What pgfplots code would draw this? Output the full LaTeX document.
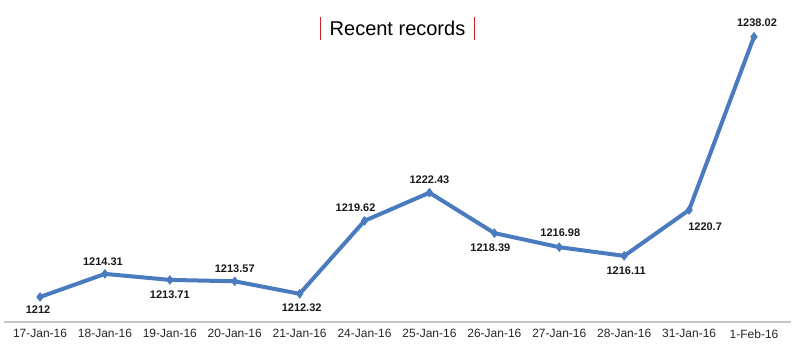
\documentclass[border=0pt]{standalone}
\usepackage{pgfplots}
\pgfplotsset{compat=1.18}
\usepackage{pgfplotstable}
\usepackage{fontspec}
\setmainfont{Liberation Sans}
\definecolor{lineblue}{HTML}{4A7BBE}
\definecolor{barred}{HTML}{D2232A}
\pgfplotstableread{
x y dx dy lab
0 1212.00 -2 -13 1212
1 1214.31 -2 12 1214.31
2 1213.71 0 -15 1213.71
3 1213.57 0 13 1213.57
4 1212.32 2 -14 1212.32
5 1219.62 -9 13 1219.62
6 1222.43 0 13 1222.43
7 1218.39 -4 -15 1218.39
8 1216.98 1 14 1216.98
9 1216.11 2 -15 1216.11
10 1220.70 16 -17 1220.7
11 1238.02 3 14 1238.02
}\datatable
\begin{document}
\begin{tikzpicture}
\path[use as bounding box] (-4pt,-28pt) rectangle (796pt,322pt);
\begin{axis}[
  scale only axis,
  width=787pt, height=322pt,
  xmin=-0.555, xmax=11.57,
  ymin=1209.5, ymax=1241.7,
  axis x line*=bottom,
  axis y line=none,
  x axis line style={-, draw=black!22, line width=1.3pt},
  xtick=data,
  xticklabels={17-Jan-16,18-Jan-16,19-Jan-16,20-Jan-16,21-Jan-16,24-Jan-16,25-Jan-16,26-Jan-16,27-Jan-16,28-Jan-16,31-Jan-16,1-Feb-16},
  major tick length=0pt,
  xticklabel style={font=\fontsize{12}{14}\selectfont, text=black!85, yshift=-4pt},
  title={{\color{barred}\rule[-5pt]{1pt}{23pt}}\hspace{9pt}Recent records\hspace{9pt}{\color{barred}\rule[-5pt]{1pt}{23pt}}},
  title style={at={(axis description cs:0.5,1)}, anchor=center, yshift=-35pt, font=\fontsize{20}{24}\selectfont},
  clip=false,
]
\addplot[color=lineblue, line width=4pt, line join=round,
  mark=diamond*, mark size=4.5pt, mark options={fill=lineblue, line width=0.5pt},
  nodes near coords,
  point meta=explicit symbolic,
  visualization depends on={\thisrow{dx} \as \dx},
  visualization depends on={\thisrow{dy} \as \dy},
  every node near coord/.append style={anchor=center, xshift=\dx pt, yshift=\dy pt,
     font=\fontsize{11}{13}\selectfont\bfseries, text=black!90},
] table[x=x, y=y, meta=lab] {\datatable};
\end{axis}
\end{tikzpicture}
\end{document}
